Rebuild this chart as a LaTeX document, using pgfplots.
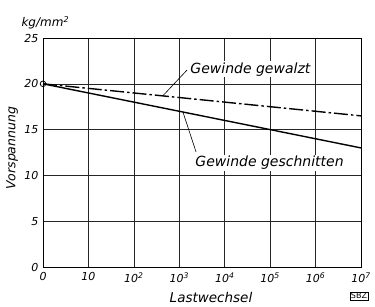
\documentclass[border=0pt]{standalone}
\usepackage{fontspec}
\setmainfont{DejaVu Sans}
\usepackage{pgfplots}
\pgfplotsset{compat=1.18}
\begin{document}
\begin{tikzpicture}
\path[use as bounding box] (-43pt,-39pt) rectangle (332pt,267pt);
\begin{axis}[
  at={(0,0)}, anchor=south west,
  scale only axis, width=318pt, height=229pt,
  xmin=0, xmax=7, ymin=0, ymax=25,
  xtick={0,1,2,3,4,5,6,7},
  xticklabels={0,10,10\textsuperscript{2},10\textsuperscript{3},10\textsuperscript{4},10\textsuperscript{5},10\textsuperscript{6},10\textsuperscript{7}},
  ytick={0,5,10,15,20,25},
  yticklabels={0,5,10,15,20,25},
  major tick length=0pt,
  grid=major,
  grid style={black!85, line width=0.6pt},
  axis line style={black, line width=0.8pt},
  tick label style={font=\fontsize{11}{13}\selectfont\itshape},
  xticklabel style={yshift=-2pt},
  yticklabel style={xshift=-1pt},
  ylabel={Vorspannung},
  ylabel style={font=\fontsize{12.5}{14}\selectfont\itshape, at={(axis description cs:-0.097,0.52)}, anchor=center},
  clip=false,
]
\addplot[black, line width=1.4pt] coordinates {(0,20) (7,13)};
\addplot[black, line width=1.4pt, dash pattern=on 14pt off 3pt on 2.5pt off 3pt] coordinates {(0,20) (7,16.5)};
\addplot[only marks, mark=o, mark size=2.8pt, mark options={fill=white, line width=0.8pt}] coordinates {(0,20)};
\draw[black, line width=0.6pt] (axis cs:3.17,21.5) -- (axis cs:2.64,18.7);
\draw[black, line width=0.6pt] (axis cs:3.08,16.92) -- (axis cs:3.37,12.55);
\node[anchor=west, fill=white, inner sep=1pt, font=\fontsize{14}{16}\selectfont\itshape] at (axis cs:3.22,21.6) {Gewinde gewalzt};
\node[anchor=west, fill=white, inner sep=1pt, font=\fontsize{14}{16}\selectfont\itshape] at (axis cs:3.33,11.35) {Gewinde geschnitten};
\end{axis}
\node[anchor=base west, font=\fontsize{12}{14}\selectfont\itshape] at (-25pt,240pt) {kg/mm\textsuperscript{2}};
\node[font=\fontsize{13.5}{15}\selectfont\itshape] at (168pt,-30pt) {Lastwechsel};
\node[draw, line width=0.5pt, inner sep=1.2pt, font=\fontsize{8}{9}\selectfont] at (316pt,-29pt) {SBZ};
\end{tikzpicture}
\end{document}
